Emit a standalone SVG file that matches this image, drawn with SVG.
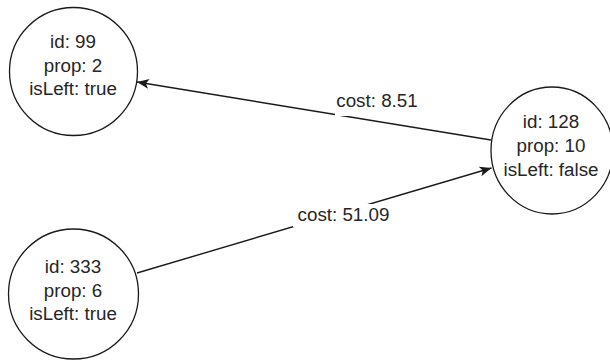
<svg xmlns="http://www.w3.org/2000/svg" width="610" height="360" viewBox="0 0 610 360">
<style>
.node{fill:#ffffff;stroke:#1a1a1a;stroke-width:1.3}
.t{font-family:"Liberation Sans",Arial,sans-serif;font-size:18.8px;fill:#262626;text-anchor:middle}
.edge{stroke:#1a1a1a;stroke-width:1.4;fill:none}
.lbg{fill:#ffffff}
</style>
<defs>
<marker id="arr" viewBox="0 0 12 10" refX="12" refY="5" markerWidth="12" markerHeight="10" markerUnits="userSpaceOnUse" orient="auto">
<path d="M0,0 L12,5 L0,10 L3,5 z" fill="#1a1a1a"/>
</marker>
</defs>
<rect width="610" height="360" fill="#ffffff"/>
<g id="connectors">
<g id="e-128-99">
<line class="edge" x1="491" y1="140" x2="137" y2="82" marker-end="url(#arr)"/>
<rect class="lbg" x="335" y="92" width="86" height="24"/>
<text class="t" x="377" y="107">cost: 8.51</text>
</g>
<g id="e-333-128">
<line class="edge" x1="137" y1="273" x2="491.5" y2="168" marker-end="url(#arr)"/>
<rect class="lbg" x="293" y="204" width="100" height="23"/>
<text class="t" x="343.5" y="221">cost: 51.09</text>
</g>
</g>
<g id="node-99">
<circle class="node" cx="73.5" cy="71.5" r="64"/>
<text class="t" x="73" y="48">id: 99</text>
<text class="t" x="73" y="71.5">prop: 2</text>
<text class="t" x="73" y="95">isLeft: true</text>
</g>
<g id="node-128">
<ellipse class="node" cx="552" cy="150.5" rx="61" ry="63.5"/>
<text class="t" x="551" y="128">id: 128</text>
<text class="t" x="551" y="152">prop: 10</text>
<text class="t" x="551" y="176">isLeft: false</text>
</g>
<g id="node-333">
<circle class="node" cx="73.5" cy="294" r="65"/>
<text class="t" x="73" y="273">id: 333</text>
<text class="t" x="73" y="296.5">prop: 6</text>
<text class="t" x="73" y="320">isLeft: true</text>
</g>
</svg>
